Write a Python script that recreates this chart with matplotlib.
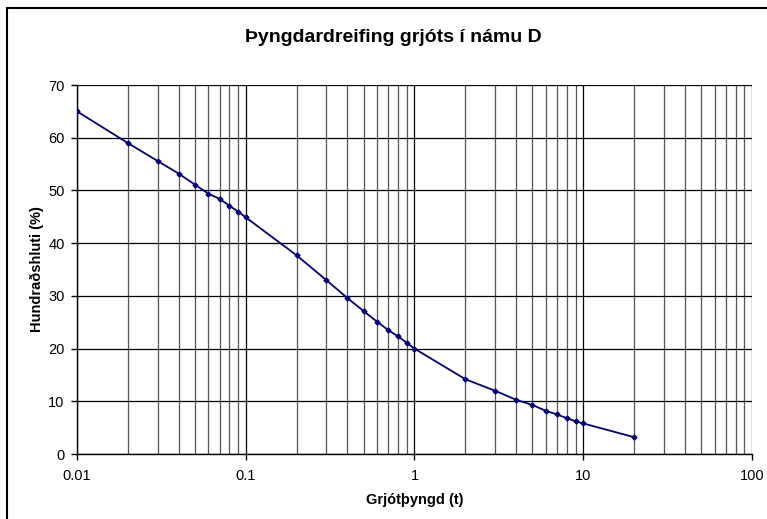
import matplotlib
matplotlib.use("Agg")
import matplotlib.pyplot as plt
from matplotlib.patches import Rectangle
from matplotlib.ticker import LogLocator, FixedLocator, NullFormatter

plt.rcParams['font.family'] = ['Liberation Sans', 'DejaVu Sans']

# gögn lesin af myndinni
thyngd = [0.01, 0.02, 0.03, 0.04, 0.05, 0.06, 0.07, 0.08, 0.09,
          0.1, 0.2, 0.3, 0.4, 0.5, 0.6, 0.7, 0.8, 0.9,
          1, 2, 3, 4, 5, 6, 7, 8, 9, 10, 20]
hlutfall = [65.0, 59.0, 55.6, 53.2, 51.1, 49.4, 48.4, 47.1, 46.0,
            44.9, 37.7, 33.0, 29.6, 27.1, 25.1, 23.5, 22.3, 21.1,
            20.0, 14.2, 12.0, 10.3, 9.3, 8.2, 7.5, 6.8, 6.2, 5.8, 3.2]
y_ticks = [0, 10, 20, 30, 40, 50, 60, 70]
x_ticks = [0.01, 0.1, 1, 10, 100]
x_labels = ['0.01', '0.1', '1', '10', '100']

fig = plt.figure(figsize=(7.67, 5.19), dpi=100)
ax = fig.add_axes([0.1004, 0.1252, 0.88, 0.711])

ax.plot(thyngd, hlutfall, color='#000080', linewidth=1.3,
        marker='D', markersize=2.5, zorder=5)

ax.set_xscale('log')
ax.set_xlim(0.01, 100)
ax.set_ylim(0, 70)
ax.xaxis.set_major_locator(FixedLocator(x_ticks))
ax.set_xticklabels(x_labels)
ax.xaxis.set_minor_locator(LogLocator(base=10, subs=range(2, 10)))
ax.xaxis.set_minor_formatter(NullFormatter())
ax.set_yticks(y_ticks)

ax.grid(True, which='major', axis='both', color='black', linewidth=0.9)
ax.grid(True, which='minor', axis='x', color='#555555', linewidth=0.9)
ax.set_axisbelow(True)

for s in ['top', 'right']:
    ax.spines[s].set_visible(False)
for s in ['left', 'bottom']:
    ax.spines[s].set_color('black')
    ax.spines[s].set_linewidth(1.0)

ax.tick_params(axis='both', which='major', direction='out', length=4,
               width=1.0, labelsize=10.5, pad=5)
ax.tick_params(axis='x', which='minor', length=0)
ax.tick_params(axis='x', which='major', pad=7)

ax.set_xlabel('Grjótþyngd (t)', fontsize=10.5, fontweight='bold', labelpad=7)
ax.set_ylabel('Hundraðshluti (%)', fontsize=10.5, fontweight='bold', labelpad=3)
fig.text(0.513, 0.927, 'Þyngdardreifing grjóts í námu D', ha='center',
         va='center', fontsize=14, fontweight='bold')

# rammi utan um myndina
fig.patches.append(Rectangle((7 / 767, -0.02), 1.1, 1 - 8 / 519 + 0.02,
                             transform=fig.transFigure, fill=False,
                             edgecolor='black', linewidth=1.5))

fig.savefig('out.png', dpi=100)
